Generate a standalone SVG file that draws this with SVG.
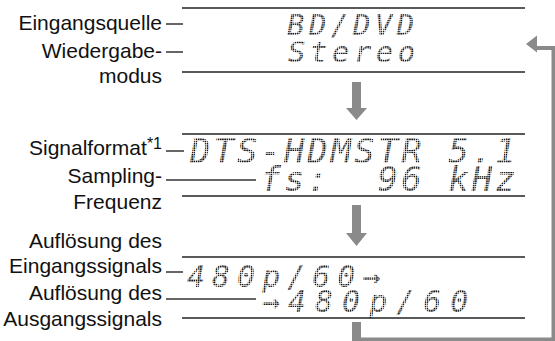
<svg xmlns="http://www.w3.org/2000/svg" width="555" height="341" viewBox="0 0 555 341">
<defs>
<pattern id="dm" width="2.2" height="2.2" patternUnits="userSpaceOnUse">
<rect width="1.6" height="1.6" fill="#1a1a1a"/>
</pattern>
</defs>
<style>
.lbl{font-family:"Liberation Sans",Arial,sans-serif;font-size:21px;fill:#111;text-anchor:end}
.sup{font-size:16px}
.ln{stroke:#222;stroke-width:1.5;fill:none}
.dsh{stroke:#333;stroke-width:1.5;fill:none}
.lcd{font-family:"DejaVu Sans Mono",monospace;font-style:oblique;fill:url(#dm)}
.r1{font-size:29px;letter-spacing:4.5px}
.r2{font-size:34px;letter-spacing:3px}
.r3{font-size:30px;letter-spacing:7px}
.r3b{font-size:30px;letter-spacing:9px}
.arr{fill:#8a8a8a}
</style>
<rect width="555" height="341" fill="#fff"/>

<g id="display1">
<line class="ln" x1="182" y1="8" x2="525" y2="8"/>
<line class="ln" x1="182" y1="72" x2="525" y2="72"/>
<text class="lcd r1" x="287" y="35">BD/DVD</text>
<text class="lcd r1" x="288" y="62">Stereo</text>
</g>

<g id="display2">
<line class="ln" x1="182" y1="134" x2="525" y2="134"/>
<line class="ln" x1="182" y1="196" x2="525" y2="196"/>
<text class="lcd r2" x="190" y="163">DTS-HDMSTR 5.1</text>
<text class="lcd r2" x="190" y="191" xml:space="preserve">   fs:  96 kHz</text>
</g>

<g id="display3">
<line class="ln" x1="182" y1="257" x2="525" y2="257"/>
<line class="ln" x1="182" y1="318" x2="525" y2="318"/>
<text class="lcd r3" x="187" y="287">480p/60→</text>
<text class="lcd r3b" y="312"><tspan x="262">→ </tspan><tspan x="288">480p/60</tspan></text>
</g>

<g id="labels1">
<text class="lbl" x="162" y="30">Eingangsquelle</text>
<text class="lbl" x="162" y="58">Wiedergabe-</text>
<text class="lbl" x="162" y="83">modus</text>
<line class="dsh" x1="166" y1="24" x2="183" y2="24"/>
<line class="dsh" x1="166" y1="52" x2="183" y2="52"/>
</g>

<g id="labels2">
<text class="lbl" x="162" y="155">Signalformat<tspan class="sup" dy="-6">*1</tspan></text>
<text class="lbl" x="162" y="183">Sampling-</text>
<text class="lbl" x="162" y="209">Frequenz</text>
<line class="dsh" x1="166" y1="151" x2="184" y2="151"/>
<line class="dsh" x1="166" y1="180" x2="256" y2="180"/>
</g>

<g id="labels3">
<text class="lbl" x="162" y="248">Auflösung des</text>
<text class="lbl" x="162" y="273">Eingangssignals</text>
<text class="lbl" x="162" y="300">Auflösung des</text>
<text class="lbl" x="162" y="326">Ausgangssignals</text>
<line class="dsh" x1="166" y1="272" x2="183" y2="272"/>
<line class="dsh" x1="166" y1="299" x2="256" y2="299"/>
</g>

<g id="connectors">
<path class="arr" d="M352,82 H361 V108 H367 L356.5,120 L346,108 H352 Z"/>
<path class="arr" d="M352,205 H361 V233 H367 L356.5,246 L346,233 H352 Z"/>
<path class="arr" d="M352,322 H361 V337.5 H551.5 V50 H537 V52.5 L526,44 L537,35.5 V46 H555 V341 H352 Z"/>
</g>
</svg>
